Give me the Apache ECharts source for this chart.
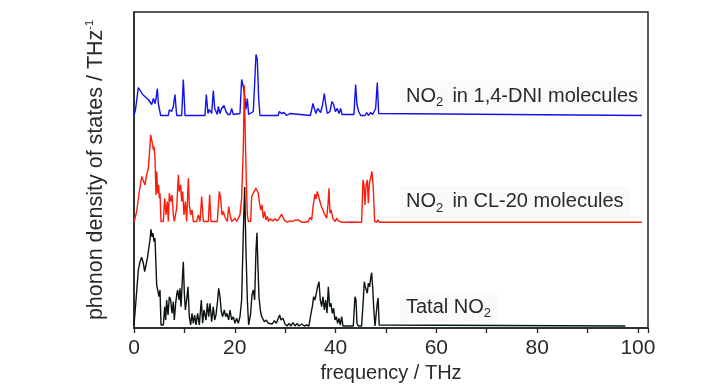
<!DOCTYPE html>
<html>
<head>
<meta charset="utf-8">
<script src="https://cdn.jsdelivr.net/npm/echarts@6/dist/echarts.min.js"></script>
<style>html,body{margin:0;padding:0;background:#fff;}#c{width:728px;height:390px;}</style>
</head>
<body>
<div id="c"></div>
<script>
// x tick labels
const xTicks = [0, 20, 40, 60, 80, 100];
const seriesNames = ['NO2 in 1,4-DNI molecules', 'NO2 in CL-20 molecules', 'Tatal NO2'];

// [frequency THz, phonon DOS (arb.)]
const dniNO2 = [[0,0],[0.3,6],[0.86,28],[1.19,26],[1.72,21],[1.98,22],[2.38,18],[2.84,16],[3.17,14],[3.51,11],[3.84,17],[4.17,12],[4.37,17],[4.63,27],[4.83,12],[5.03,14],[5.29,0],[6.8,0],[7.01,5.7],[7.47,4],[7.8,9],[8.13,21],[8.47,0],[9.46,0],[9.79,36],[10.12,0],[14.09,0],[14.35,21],[14.68,2],[14.95,6],[15.41,2],[15.74,25],[16.01,7],[16.27,9],[16.54,1],[16.73,9],[17.06,2],[17.39,7],[17.86,10],[18.25,4],[18.65,1],[19.05,1],[19.38,7],[19.71,1],[21.03,2],[21.36,36],[21.69,29],[22.02,17],[22.22,6],[22.49,17],[22.75,1],[23.68,4],[24.21,61],[24.47,56],[24.74,17],[25.0,0],[28.6,0],[28.84,4],[29.3,2],[29.76,3],[30.29,0],[30.95,2],[31.28,0],[35.0,0],[35.25,2],[35.52,12],[35.78,7],[36.11,2],[36.44,7],[36.77,8],[37.04,3],[37.43,11],[37.76,22],[38.03,12],[38.36,2],[38.89,4],[39.29,14],[39.62,11],[39.95,4],[40.34,7],[40.68,2],[41.01,7],[41.27,1],[41.54,0],[43.65,1],[43.98,31],[44.25,11],[44.58,4],[44.98,0],[45.84,0],[46.17,3],[46.5,0],[46.96,3],[47.36,1],[47.95,7],[48.28,33],[48.55,2],[48.81,0],[100.8,0]];

const cl20NO2 = [[0,0],[0.53,10.7],[1.06,30.7],[1.52,45.7],[1.85,44.7],[2.18,37.3],[2.51,47.3],[2.84,54],[3.04,67.3],[3.31,87.3],[3.57,80.7],[3.84,72.3],[3.97,75.7],[4.17,64],[4.37,27.3],[4.5,50.7],[4.7,29],[4.89,37.3],[5.03,24],[5.16,29],[5.36,0.7],[5.82,0.7],[6.09,24],[6.35,7.3],[6.61,20.7],[6.81,0.7],[7.01,29],[7.27,20.7],[7.54,27.3],[7.8,7.3],[8.0,0.7],[8.47,14],[8.8,47.3],[8.99,30.7],[9.26,37.3],[9.46,20.7],[9.66,30.7],[9.92,7.3],[10.19,20.7],[10.45,0.7],[10.78,44],[10.98,17.3],[11.24,7.3],[11.51,12.3],[11.77,0.7],[12.43,0.7],[12.76,7.3],[13.1,0.7],[13.43,25.7],[13.76,0.7],[14.75,0.7],[15.01,27.3],[15.28,0.7],[16.53,0.7],[16.93,30.7],[17.2,24],[17.46,7.3],[17.72,10.7],[17.99,5.7],[18.25,7.3],[18.52,0.7],[18.78,15.7],[19.05,7.3],[19.38,0.7],[20.04,4],[20.37,0.7],[21.03,7.3],[21.36,24],[21.69,74],[21.89,137],[22.16,67],[22.35,30.7],[22.49,7.3],[22.69,0.7],[23.15,0.7],[23.35,25.7],[23.68,29],[24.01,27.3],[24.21,34],[24.47,35.7],[24.67,29],[24.87,20.7],[25.13,12.3],[25.4,17.3],[25.66,4],[25.92,10.7],[26.19,2.3],[26.45,5.7],[26.72,0.7],[26.98,3.3],[27.51,1.3],[27.98,3.3],[28.44,1.3],[28.84,4],[29.3,8],[29.63,4],[29.96,1.3],[30.42,0],[30.95,1.3],[31.48,0.7],[31.94,2],[32.28,0],[32.61,2.3],[32.94,0.7],[33.27,0],[33.6,1.7],[33.93,0],[34.59,0.7],[34.92,4.7],[35.25,2.3],[35.58,17.3],[35.91,28],[36.11,23.3],[36.38,30.7],[36.64,32.3],[36.9,20.7],[37.17,15.7],[37.43,13.3],[37.7,9],[37.96,7.3],[38.23,4],[38.49,17.3],[38.69,34],[38.89,9],[39.15,12.3],[39.42,4],[39.68,5.7],[39.95,0.7],[40.21,4],[40.54,1.3],[40.87,2.3],[41.21,0],[45.17,0],[45.44,42.3],[45.64,37.3],[45.84,17.3],[46.03,35.7],[46.3,42.3],[46.5,19],[46.7,39],[46.96,44],[47.22,50.7],[47.49,34],[47.75,0.7],[48.15,0],[48.41,2.3],[48.68,0],[100.8,0]];

const totalNO2 = [[0,1],[0.4,26],[0.86,56],[1.19,64.3],[1.52,68.7],[1.85,62.7],[2.12,54.3],[2.38,61],[2.65,67.7],[2.91,66],[3.17,86],[3.37,96.7],[3.57,89.3],[3.77,92.7],[3.97,84.3],[4.17,87.7],[4.37,59.3],[4.5,41],[4.76,42.7],[4.96,29.3],[5.16,36],[5.36,1],[5.82,1],[6.09,19.3],[6.28,6],[6.48,26],[6.75,11],[7.01,29.3],[7.27,26],[7.54,12.7],[7.8,24.3],[8.0,6],[8.27,22.7],[8.47,31],[8.66,36],[8.93,26],[9.13,37.7],[9.33,19.3],[9.59,46],[9.79,64.3],[9.99,32.7],[10.19,16],[10.45,26],[10.71,39.3],[10.98,9.3],[11.24,1],[11.51,12.7],[11.77,2.7],[12.04,11],[12.3,1],[12.63,12.7],[12.96,1],[13.36,26],[13.62,2.7],[13.89,16],[14.29,6],[14.55,22.7],[14.81,9.3],[15.08,22.7],[15.41,4.3],[15.74,19.3],[16.01,6],[16.27,11],[16.54,22.7],[16.8,37.7],[17.06,29.3],[17.33,14.3],[17.59,9.3],[17.92,16],[18.19,9.3],[18.45,12.7],[18.78,6],[19.05,16],[19.38,6],[19.71,9.3],[20.04,2.7],[20.37,7.7],[20.7,2.7],[21.03,9.3],[21.36,26],[21.69,92.7],[21.96,139],[22.22,76],[22.49,26],[22.75,1],[23.15,12.7],[23.41,31],[23.68,36],[23.94,26],[24.21,76],[24.4,93.3],[24.6,59.3],[24.8,29.3],[25.07,16],[25.33,9.3],[25.6,11],[25.86,4.3],[26.26,6],[26.66,2.7],[27.05,4.3],[27.45,2],[27.85,5.3],[28.24,2.7],[28.64,7.7],[28.9,11],[29.17,6],[29.57,7.7],[29.96,2],[30.36,0],[30.76,2.7],[31.15,0],[31.55,3.3],[31.95,0],[32.34,2.7],[32.74,0],[33.27,2],[33.8,0],[34.26,1],[34.72,0],[35.12,12.7],[35.39,19.3],[35.65,29.3],[35.91,26],[36.18,32.7],[36.44,39.3],[36.71,44.3],[36.97,26],[37.24,19.3],[37.5,29.3],[37.77,16],[38.03,26],[38.3,12.7],[38.56,39.3],[38.83,19.3],[39.09,22.7],[39.35,12.7],[39.62,17.7],[39.88,6],[40.15,9.3],[40.41,2.7],[40.68,7.7],[40.94,1],[41.21,9.3],[41.47,0],[43.52,0],[43.85,29.3],[44.05,26],[44.25,2.7],[44.51,0],[45.17,0],[45.5,26],[45.7,44.3],[45.9,39.3],[46.1,36],[46.3,32.7],[46.5,42.7],[46.76,39.3],[46.96,47.7],[47.16,53.3],[47.36,39.3],[47.56,19.3],[47.82,0],[48.1,0],[48.3,24],[48.45,28],[48.65,1],[48.9,0],[97.5,0]];

// vertical offsets used to stack the three spectra
const OFFSETS = [212.5, 105.8, 2];
const COLORS = ['#1010f0', '#ff1a0a', '#0c1410'];
const AXIS = '#1e2a25';
const TXT = '#2a2a2a';
const FONT = 'Liberation Sans, Arial, sans-serif';

const shift = (arr, off) => arr.map(p => [p[0], p[1] + off]);

const chart = echarts.init(document.getElementById('c'), null, {renderer: 'canvas'});

const richLabel = {
  n: {fontSize: 20, fontFamily: FONT, fill: TXT, lineHeight: 26},
  s: {fontSize: 13, fontFamily: FONT, fill: TXT, lineHeight: 12, verticalAlign: 'bottom'}
};
function label(text, x, y) {
  return {
    type: 'text', x: x, y: y, z: 10,
    style: {
      text: text, rich: richLabel, align: 'left', verticalAlign: 'middle',
      fill: TXT, font: '20px ' + FONT,
      backgroundColor: '#fafafa', padding: [2, 6, 2, 6]
    }
  };
}

chart.setOption({
  animation: false,
  grid: {left: 134, right: 80, top: 12, bottom: 62, show: true, borderColor: AXIS, borderWidth: 1.5, backgroundColor: 'transparent'},
  xAxis: {
    type: 'value', min: 0, max: 102, interval: 10,
    name: 'frequency / THz', nameLocation: 'middle', nameGap: 35,
    nameTextStyle: {fontSize: 20, color: TXT, fontFamily: FONT},
    axisLine: {show: true, lineStyle: {color: AXIS, width: 1.5}},
    axisTick: {show: true, inside: false, length: 5, lineStyle: {color: AXIS, width: 1.3}},
    axisLabel: {
      margin: 10, fontSize: 21, color: TXT, fontFamily: FONT,
      formatter: v => (xTicks.indexOf(v) >= 0 ? String(v) : '')
    },
    splitLine: {show: false}
  },
  yAxis: {
    type: 'value', min: 0, max: 316,
    name: '{a|phonon density of states / THz}{s|-1}',
    nameLocation: 'middle', nameGap: 25,
    nameTextStyle: {
      color: TXT,
      rich: {
        a: {fontSize: 21.5, fontFamily: FONT, color: TXT, lineHeight: 25},
        s: {fontSize: 11, fontFamily: FONT, color: TXT, lineHeight: 11, verticalAlign: 'top'}
      }
    },
    axisLine: {show: true, lineStyle: {color: AXIS, width: 1.5}},
    axisTick: {show: false},
    axisLabel: {show: false},
    splitLine: {show: false}
  },
  series: [
    {name: seriesNames[0], type: 'line', data: shift(dniNO2, OFFSETS[0]), showSymbol: false, lineStyle: {color: COLORS[0], width: 1.4}, z: 2},
    {name: seriesNames[1], type: 'line', data: shift(cl20NO2, OFFSETS[1]), showSymbol: false, lineStyle: {color: COLORS[1], width: 1.4}, z: 3},
    {name: seriesNames[2], type: 'line', data: shift(totalNO2, OFFSETS[2]), showSymbol: false, lineStyle: {color: COLORS[2], width: 1.4}, z: 4}
  ],
  graphic: [
    label('{n|NO}{s|2 }{n| in 1,4-DNI molecules}', 400, 96),
    label('{n|NO}{s|2 }{n| in CL-20 molecules}', 400, 201.5),
    label('{n|Tatal NO}{s|2}', 400, 307)
  ]
});
</script>
</body>
</html>
